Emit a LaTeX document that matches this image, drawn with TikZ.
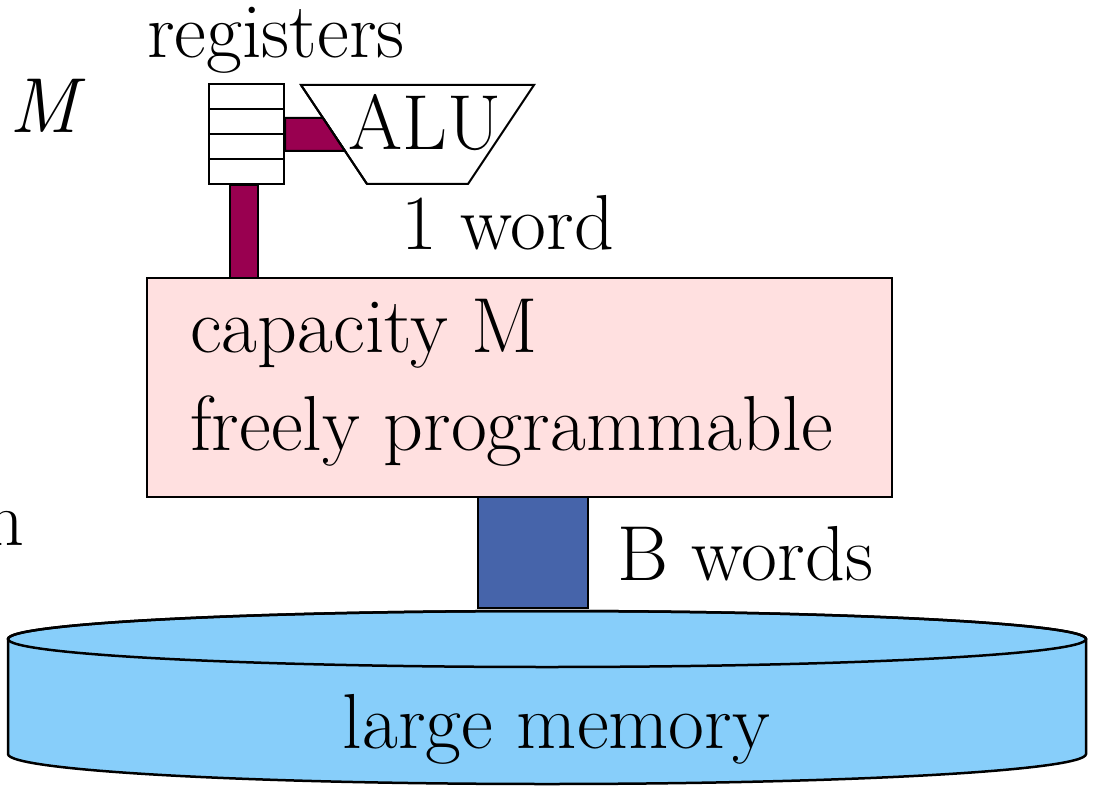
\documentclass[tikz,border=0pt]{standalone}
\usepackage{fontspec}
\setmainfont{Latin Modern Roman}
\definecolor{busred}{RGB}{153,0,80}
\definecolor{busblue}{RGB}{70,100,170}
\definecolor{pinkbox}{RGB}{255,224,224}
\definecolor{diskblue}{RGB}{135,206,250}
\begin{document}
\begin{tikzpicture}[x=1pt,y=-1pt,
  lbl/.style={inner sep=0pt, font=\fontsize{78}{90}\selectfont},
  outl/.style={draw=black, line width=2pt},
  bus/.style={draw=black, line width=2pt}]
\useasboundingbox (0,0) rectangle (1094,786);
% large memory cylinder
\path[fill=diskblue, draw=black, line width=2.5pt]
  (8,639) -- (8,754) arc[start angle=180, end angle=0, x radius=539, y radius=30]
  -- (1086,639) arc[start angle=0, end angle=-180, x radius=539, y radius=28] -- cycle;
\draw[line width=2.5pt] (547,639) ellipse[x radius=539, y radius=28];
\node[inner sep=0pt, minimum width=1078pt, minimum height=175pt] (disk) at (547,697) {};
\node[lbl, anchor=base] (disklbl) at (556.5,748) {large memory};
% internal memory box
\node[outl, fill=pinkbox, minimum width=745pt, minimum height=219pt, inner sep=0pt] (mem) at (519.5,387.5) {};
\node[lbl, anchor=base west] (cap) at (190,352) {capacity M};
\node[lbl, anchor=base west] (prog) at (190,450) {freely programmable};
% blue bus between memory and disk
\filldraw[bus, fill=busblue] (478,497) rectangle (588,608);
\node[lbl, anchor=base west] (bw) at (617,580) {B words};
% ALU
\draw[outl, fill=white] (301,85) -- (534,85) -- (468,184) -- (367,184) -- cycle;
\coordinate (alu) at (417,134);
% registers
\node[outl, fill=white, minimum width=75pt, minimum height=100pt, inner sep=0pt] (regs) at (246.5,134) {};
\draw[line width=2pt] (209,109) -- (284,109) (209,134) -- (284,134) (209,159) -- (284,159);
% register buses
\filldraw[bus, fill=busred] (230,185) rectangle (258,278);
\filldraw[bus, fill=busred] (285,118) -- (323,118) -- (345,151) -- (285,151) -- cycle;
\draw[line width=2pt] (301,85) -- (367,184);
\node[lbl, anchor=base west] (alulbl) at (348,150) {ALU};
% labels
\node[lbl, anchor=base west] (reglbl) at (147,58) {registers};
\node[lbl, anchor=base west] (word) at (401,250) {1 word};
\node[lbl, anchor=base west] (mlbl) at (9,133) {\itshape M};
\node[lbl, anchor=base east] (nlbl) at (25,545) {n};
\end{tikzpicture}
\end{document}
